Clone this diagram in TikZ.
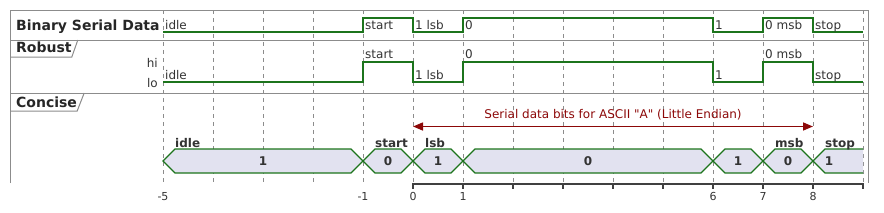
\documentclass[tikz,border=0pt]{standalone}
\usepackage{fontspec}
\setmainfont{DejaVu Sans}
\newfontfamily\qfont{DejaVu Sans}
\usepackage{xcolor}
\usepackage{tikz}
\usetikzlibrary{arrows.meta, calc}
\definecolor{siggreen}{RGB}{28,116,28}
\definecolor{barfill}{RGB}{226,226,240}
\definecolor{arrowred}{RGB}{140,8,8}
\definecolor{framegray}{RGB}{140,140,140}
\definecolor{axisgray}{RGB}{64,64,64}

\begin{document}
\begin{tikzpicture}[x=1pt, y=-1pt,
    font=\fontsize{12}{14}\selectfont,
    judul/.style={anchor=base west, inner sep=0pt, text=black!85,
                  font=\fontsize{14}{16}\selectfont\bfseries},
    lvl/.style={anchor=base east, inner sep=0pt, text=black!80},
    st/.style={anchor=base west, inner sep=0pt, text=black!80},
    cst/.style={anchor=base west, inner sep=0pt, text=black!80,
                font=\fontsize{12}{14}\selectfont\bfseries},
    val/.style={inner sep=0pt, text=black!80, font=\fontsize{12}{14}\selectfont\bfseries},
    tk/.style={anchor=base, inner sep=0pt, text=black!80, font=\fontsize{11}{13}\selectfont},
    sig/.style={siggreen, line width=2pt},
    bar/.style={draw=siggreen, fill=barfill, line width=1.2pt},
    frm/.style={framegray, line width=1pt},
    gline/.style={gray!90, line width=0.8pt, dash pattern=on 4pt off 4pt},
    panah/.style={{Triangle[length=10pt,width=8pt]}-{Triangle[length=10pt,width=8pt]},
                  arrowred, line width=1.5pt}
  ]
    \useasboundingbox (0,0) rectangle (884,212);

    % grid
    \foreach \i in {-5,...,9}
      \draw[gline] ({413+50*\i},10) -- ({413+50*\i},182);

    % frame
    \draw[frm] (10,183) -- (10,10) -- (868,10) -- (868,183);
    \draw[frm] (10,40) -- (868,40);
    \draw[frm] (10,93) -- (868,93);

    % row titles
    \node[judul] (bsd) at (16,30) {Binary Serial Data};
    \node[judul] (robust) at (16,52) {Robust};
    \node[judul] (concise) at (16,107) {Concise};
    \coordinate (rb) at (10,57);
    \coordinate (cb) at (10,111);
    \draw[frm] (rb) -- (robust.east |- rb) -- ++(6,-17);
    \draw[frm] (cb) -- (concise.east |- cb) -- ++(7,-18);

    % binary
    \draw[sig] (163,32) -- (363,32) -- (363,18) -- (413,18) -- (413,32) -- (463,32)
      -- (463,18) -- (713,18) -- (713,32) -- (763,32) -- (763,18) -- (813,18)
      -- (813,32) -- (863,32);
    \foreach \x/\t in {163/idle, 363/start, 413/1 lsb, 463/0, 713/1, 763/0 msb, 813/stop}
      \node[st] (b\x) at (\x+2,29) {\t};

    % robust
    \node[lvl] (hi) at (158,67) {hi};
    \node[lvl] (lo) at (158,87) {lo};
    \draw[sig] (163,82) -- (363,82) -- (363,62) -- (413,62) -- (413,82) -- (463,82)
      -- (463,62) -- (713,62) -- (713,82) -- (763,82) -- (763,62) -- (813,62)
      -- (813,82) -- (863,82);
    \foreach \x/\y/\t in {163/79/idle, 363/58/start, 413/79/1 lsb, 463/58/0,
                          713/79/1, 763/58/0 msb, 813/79/stop}
      \node[st] (r\x) at (\x+2,\y) {\t};

    % concise
    \coordinate (p0) at (413,126.5);
    \coordinate (p8) at (813,126.5);
    \draw[panah] (p0) -- (p8);
    \node[anchor=base, inner sep=0pt, text=arrowred] (bits) at (613,118)
      {Serial data bits for ASCII {\qfont "A"} (Little Endian)};
    \foreach \a/\b/\v in {163/363/1, 363/413/0, 413/463/1, 463/713/0, 713/763/1, 763/813/0} {
      \draw[bar] (\a,161) -- (\a+12,149) -- (\b-12,149) -- (\b,161)
        -- (\b-12,173) -- (\a+12,173) -- cycle;
      \node[val] (v\a) at ({(\a+\b)/2},161) {\v};
    }
    \fill[barfill] (813,161) -- (825,149) -- (863,149) -- (863,173) -- (825,173) -- cycle;
    \draw[siggreen, line width=1.2pt] (863,149) -- (825,149) -- (813,161) -- (825,173) -- (863,173);
    \node[val] (v813) at (829,161) {1};
    \foreach \x/\t in {163/idle, 363/start, 413/lsb, 763/msb, 813/stop}
      \node[cst] (c\x) at (\x+12,147) {\t};

    % axis
    \draw[axisgray, line width=2pt] (413,184) -- (863,184);
    \foreach \i in {0,...,9}
      \draw[axisgray, line width=1.2pt] ({413+50*\i},183) -- ({413+50*\i},189);
    \foreach \t in {-5,-1,0,1,6,7,8}
      \node[tk] (tk\t) at ({413+50*\t},200) {\t};
  \end{tikzpicture}
\end{document}
